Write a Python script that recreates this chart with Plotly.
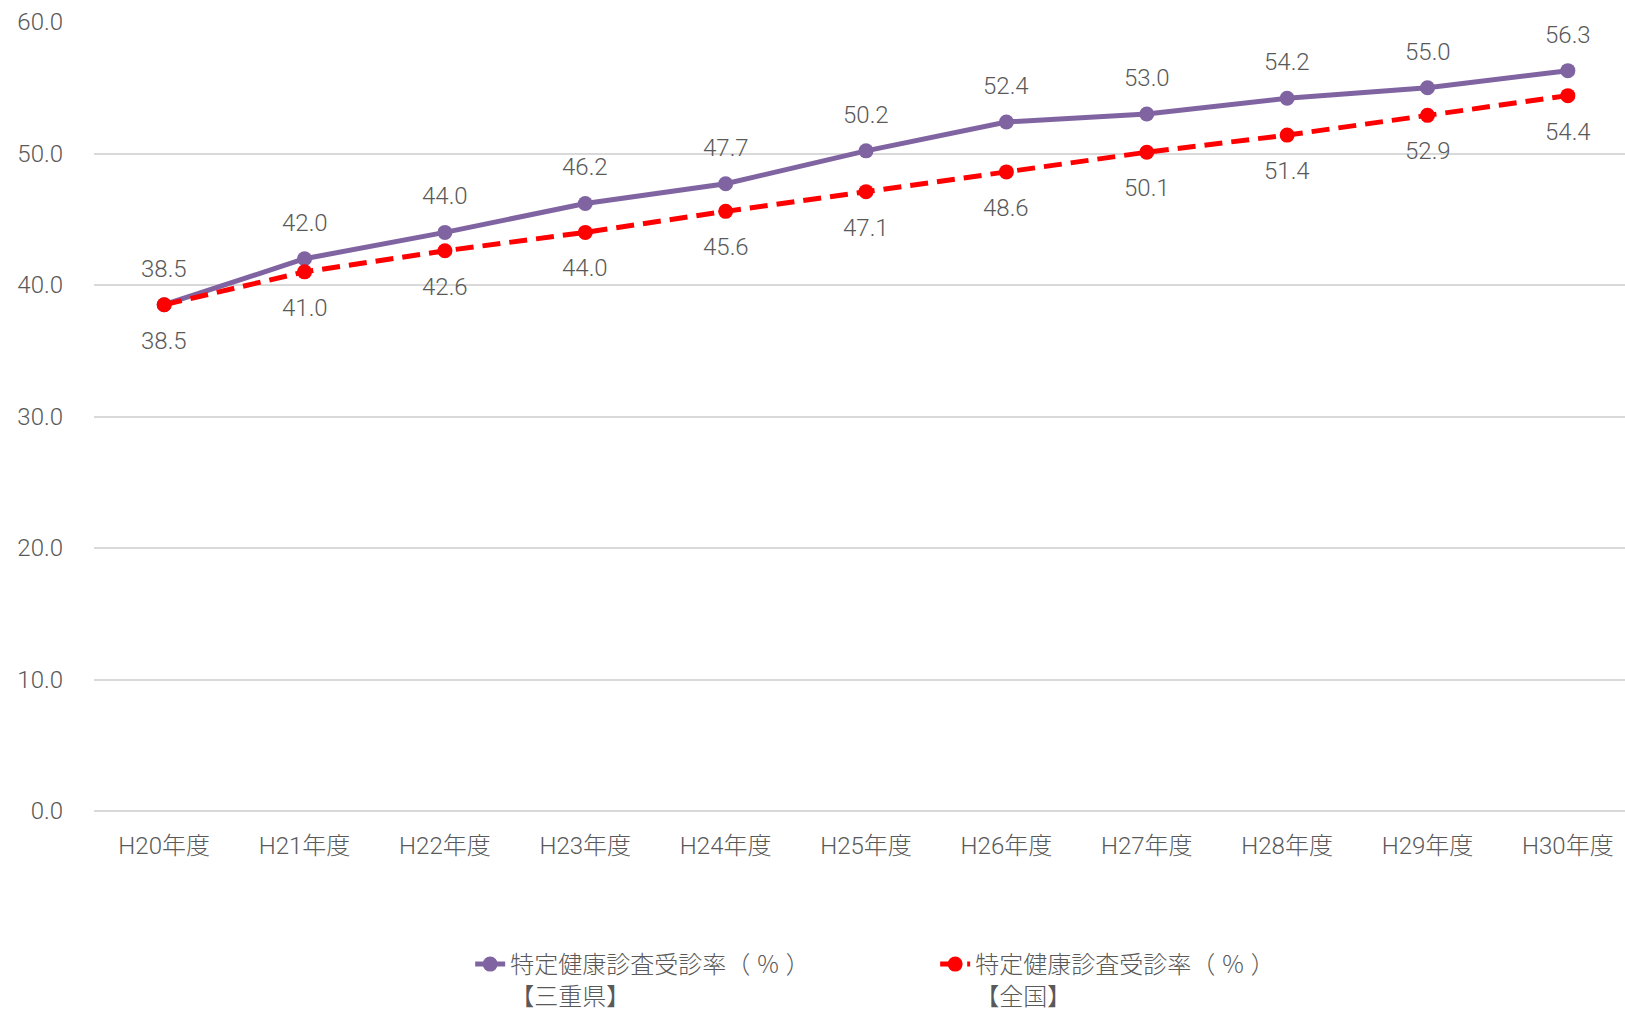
import plotly.graph_objects as go

# Fiscal years (Heisei era)
years = ["H20年度", "H21年度", "H22年度", "H23年度", "H24年度", "H25年度",
         "H26年度", "H27年度", "H28年度", "H29年度", "H30年度"]

# Specific health checkup participation rate (%)
mie_rate = [38.5, 42.0, 44.0, 46.2, 47.7, 50.2, 52.4, 53.0, 54.2, 55.0, 56.3]
national_rate = [38.5, 41.0, 42.6, 44.0, 45.6, 47.1, 48.6, 50.1, 51.4, 52.9, 54.4]

y_ticks = [0, 10, 20, 30, 40, 50, 60]

mie_name = "特定健康診査受診率（ ％ ）<br>【三重県】"
national_name = "特定健康診査受診率（ ％ ）<br>【全国】"

PURPLE = "#8064A2"
RED = "#FF0000"
TEXT = "#595959"
FONT = "Roboto, 'Noto Sans CJK JP', sans-serif"

x_idx = list(range(len(years)))

fig = go.Figure()
fig.add_trace(go.Scatter(
    x=x_idx, y=mie_rate, name=mie_name, mode="lines+markers",
    line=dict(color=PURPLE, width=5),
    marker=dict(color=PURPLE, size=15),
))
fig.add_trace(go.Scatter(
    x=x_idx, y=national_rate, name=national_name, mode="lines+markers",
    line=dict(color=RED, width=5, dash="18px,9px"),
    marker=dict(color=RED, size=15),
))

# Value labels: Mie above its points, national below
label_font = dict(size=24, color=TEXT, family=FONT, weight=300)
for xi, v in zip(x_idx, mie_rate):
    fig.add_annotation(x=xi, y=v, text=f"{v:.1f}", showarrow=False,
                       yshift=36, font=label_font)
for xi, v in zip(x_idx, national_rate):
    fig.add_annotation(x=xi, y=v, text=f"{v:.1f}", showarrow=False,
                       yshift=-36, font=label_font)

fig.update_layout(
    width=1625, height=1017,
    margin=dict(l=94, r=0, t=22, b=206, autoexpand=False),
    paper_bgcolor="white", plot_bgcolor="white",
    font=dict(family=FONT, size=24, color=TEXT, weight=300),
    xaxis=dict(
        tickmode="array", tickvals=x_idx, ticktext=years,
        range=[-0.5, 10.407], showgrid=False, zeroline=False,
        showline=False, ticks="", ticklabelstandoff=18,
        tickfont=dict(size=24, color=TEXT, weight=300),
    ),
    yaxis=dict(
        range=[0, 60], tickvals=y_ticks, tickformat=".1f",
        showgrid=True, gridcolor="#D9D9D9", gridwidth=1.5,
        zeroline=True, zerolinecolor="#D9D9D9", zerolinewidth=2,
        showline=False, ticks="", ticklabelstandoff=30,
        tickfont=dict(size=24, color=TEXT, weight=300),
    ),
    legend=dict(
        orientation="h", x=0.2457, xanchor="left", y=-0.166, yanchor="top",
        valign="top", entrywidth=420,
        font=dict(size=24, color=TEXT, weight=300),
        bgcolor="rgba(0,0,0,0)",
    ),
    showlegend=True,
)

fig.write_html("out.html")
